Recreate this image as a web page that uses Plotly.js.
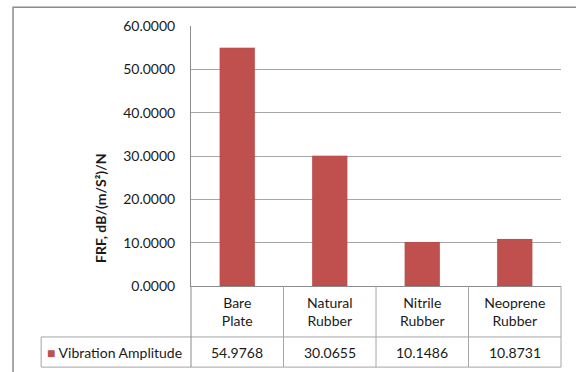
<!DOCTYPE html>
<html>
<head>
<meta charset="utf-8">
<script src="https://cdn.plot.ly/plotly-3.0.1.min.js"></script>
<style>html,body{margin:0;padding:0;background:#fff;}#chart{width:576px;height:372px;}</style>
</head>
<body>
<div id="chart"></div>
<script>
var categories = ["Bare<br>Plate", "Natural<br>Rubber", "Nitrile<br>Rubber", "Neoprene<br>Rubber"];
var seriesName = "Vibration Amplitude";
var values = [54.9768, 30.0655, 10.1486, 10.8731];
var yTickVals = [0, 10, 20, 30, 40, 50, 60];
var yTitle = "FRF, dB/(m/S\u00b2)/N";

var FONT = "Lato, 'Open Sans', sans-serif";
var TXT = "#1a1a1a";
var LINE = "#a6a6a6";

// table geometry in paper coords
var legLeft = -0.405, midRow = -0.196, botRow = -0.312;

var shapes = [];
// outer chart frame
shapes.push({type:'rect', xref:'paper', yref:'paper', x0:-0.481, x1:1.2, y0:-0.6, y1:1.072, line:{color:'#8c8c8c', width:1.5}, layer:'below'});
// horizontal table lines
shapes.push({type:'line', xref:'paper', yref:'paper', x0:legLeft, x1:1, y0:midRow, y1:midRow, line:{color:LINE, width:1}});
shapes.push({type:'line', xref:'paper', yref:'paper', x0:legLeft, x1:1, y0:botRow, y1:botRow, line:{color:LINE, width:1}});
shapes.push({type:'line', xref:'paper', yref:'paper', x0:legLeft, x1:legLeft, y0:midRow, y1:botRow, line:{color:LINE, width:1}});
// vertical table lines at category boundaries
for (var i = 0; i <= categories.length; i++) {
  var xp = i / categories.length;
  shapes.push({type:'line', xref:'paper', yref:'paper', x0:xp, x1:xp, y0:0, y1:botRow, line:{color:i===0?'#8c8c8c':LINE, width:1}});
}

var annotations = [];
values.forEach(function(v, i){
  annotations.push({xref:'x', yref:'paper', x:categories[i], y:(midRow+botRow)/2, text:v.toFixed(4), showarrow:false, font:{family:FONT, size:14, color:TXT}, xanchor:'center', yanchor:'middle'});
});
annotations.push({xref:'paper', yref:'paper', x:legLeft + 0.01, y:(midRow+botRow)/2, xanchor:'left', yanchor:'middle', showarrow:false,
  text:'<span style="color:#C0504D">\u25A0</span> ' + seriesName, font:{family:FONT, size:14, color:TXT}});
annotations.push({xref:'paper', yref:'paper', x:-0.246, y:0.30, textangle:-90, showarrow:false, xanchor:'center', yanchor:'middle',
  text:'<b>' + yTitle + '</b>', font:{family:FONT, size:14, color:TXT}});

var trace = {type:'bar', x:categories, y:values, name:seriesName, marker:{color:'#C0504D', line:{color:'rgba(0,0,0,0.06)', width:1}}, showlegend:false, hoverinfo:'none'};

var layout = {
  width:576, height:372,
  margin:{l:191, r:15, t:26, b:86, pad:0},
  paper_bgcolor:'#ffffff', plot_bgcolor:'#ffffff',
  bargap:0.62,
  font:{family:FONT, size:14, color:TXT},
  xaxis:{type:'category', showgrid:false, showline:true, linecolor:'#8c8c8c', linewidth:1, ticks:'', tickfont:{family:FONT, size:14, color:TXT}, ticklabelstandoff:4, fixedrange:true},
  yaxis:{range:[0,60], tickvals:yTickVals, tickformat:'.4f', showgrid:true, gridcolor:'#a6a6a6', gridwidth:1, showline:true, linecolor:'#8c8c8c', linewidth:1, ticks:'', ticklabelstandoff:12, zeroline:false, tickfont:{family:FONT, size:14, color:TXT}, fixedrange:true},
  shapes:shapes,
  annotations:annotations,
  showlegend:false
};

Plotly.newPlot('chart', [trace], layout, {staticPlot:true, displayModeBar:false});
</script>
</body>
</html>
